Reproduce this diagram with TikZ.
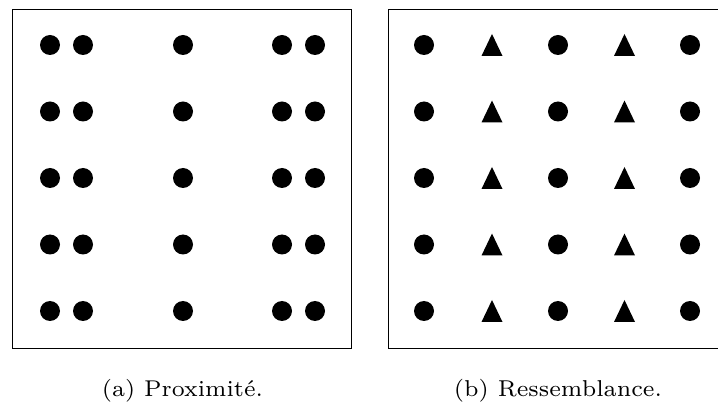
\documentclass[tikz,border=0pt]{standalone}
\usetikzlibrary{shapes.geometric}
\tikzset{
  frame/.style={draw=black, line width=1.1pt},
  dot/.style={circle, fill=black, inner sep=0pt, minimum size=20pt},
  trifill/.style={fill=black},
  captext/.style={font=\fontsize{7}{8}\selectfont, inner sep=0pt, anchor=base}
}
\begin{document}
\begin{tikzpicture}[x=1pt,y=-1pt]
\useasboundingbox (0,0) rectangle (718,403);
\clip (0,0) rectangle (718,403);
\draw[frame] (12.5,9.5) rectangle (351.5,348.5);
\draw[frame] (388.5,9.5) rectangle (726,348.5);
\foreach \r [count=\i] in {45,111.5,178,244.5,311}{
  \foreach \c [count=\j] in {50,83,183,282,315}{
    \node[dot] (p\i\j) at (\c,\r) {};
  }
  \node[dot] (ra\i) at (424,\r) {};
  \coordinate (rb\i) at (492,\r);
  \fill[trifill] ([shift={(-10.5,11)}]rb\i) -- ([shift={(10.5,11)}]rb\i) -- ([shift={(0,-11)}]rb\i) -- cycle;
  \node[dot] (rc\i) at (558,\r) {};
  \coordinate (rd\i) at (624.5,\r);
  \fill[trifill] ([shift={(-10.5,11)}]rd\i) -- ([shift={(10.5,11)}]rd\i) -- ([shift={(0,-11)}]rd\i) -- cycle;
  \node[dot] (re\i) at (690,\r) {};
}
\node[captext] (capa) at (182.5,396) {\resizebox{161pt}{!}{(a) Proximité.}};
\node[captext] (capb) at (558,396) {\resizebox{208pt}{!}{(b) Ressemblance.}};
\end{tikzpicture}
\end{document}
